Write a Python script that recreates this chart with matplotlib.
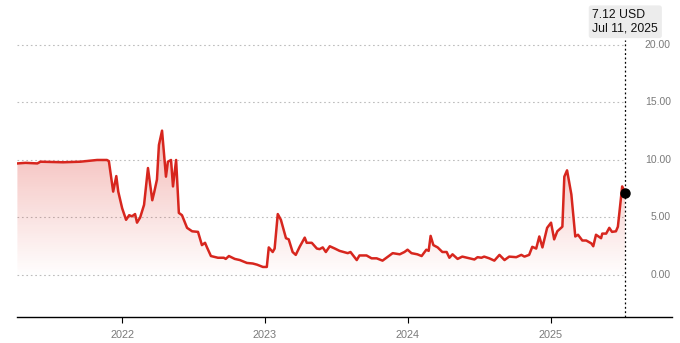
import numpy as np
import pandas as pd
import matplotlib
matplotlib.use("Agg")
import matplotlib.pyplot as plt
import matplotlib.dates as mdates
from matplotlib.transforms import blended_transform_factory

plt.rcParams['font.family'] = ['Liberation Sans', 'DejaVu Sans']

dates = ["2021-04-08", "2021-04-29", "2021-05-29", "2021-06-06", "2021-08-03", "2021-09-16",
         "2021-10-29", "2021-11-23", "2021-11-28", "2021-12-09", "2021-12-17", "2021-12-22",
         "2022-01-01", "2022-01-11", "2022-01-19", "2022-01-26", "2022-02-03", "2022-02-08",
         "2022-02-16", "2022-02-26", "2022-03-08", "2022-03-19", "2022-03-24", "2022-03-31",
         "2022-04-05", "2022-04-13", "2022-04-23", "2022-04-28", "2022-05-06", "2022-05-11",
         "2022-05-19", "2022-05-26", "2022-06-03", "2022-06-16", "2022-06-29", "2022-07-14",
         "2022-07-24", "2022-08-01", "2022-08-06", "2022-08-16", "2022-09-03", "2022-09-18",
         "2022-09-23", "2022-10-01", "2022-10-16", "2022-10-29", "2022-11-16", "2022-12-01",
         "2022-12-12", "2022-12-27", "2023-01-06", "2023-01-11", "2023-01-21", "2023-01-26",
         "2023-02-03", "2023-02-11", "2023-02-24", "2023-03-03", "2023-03-13", "2023-03-21",
         "2023-03-31", "2023-04-13", "2023-04-18", "2023-05-01", "2023-05-14", "2023-05-21",
         "2023-05-29", "2023-06-06", "2023-06-16", "2023-06-29", "2023-07-11", "2023-08-01",
         "2023-08-08", "2023-08-24", "2023-08-31", "2023-09-18", "2023-10-01", "2023-10-14",
         "2023-10-29", "2023-11-24", "2023-12-12", "2023-12-24", "2024-01-01", "2024-01-11",
         "2024-01-26", "2024-02-06", "2024-02-18", "2024-02-24", "2024-02-29", "2024-03-07",
         "2024-03-18", "2024-03-30", "2024-04-10", "2024-04-17", "2024-04-25", "2024-05-08",
         "2024-05-20", "2024-06-07", "2024-06-20", "2024-06-28", "2024-07-08", "2024-07-15",
         "2024-07-28", "2024-08-10", "2024-08-23", "2024-09-05", "2024-09-17", "2024-10-05",
         "2024-10-18", "2024-10-26", "2024-11-07", "2024-11-15", "2024-11-25", "2024-12-03",
         "2024-12-11", "2024-12-23", "2025-01-02", "2025-01-10", "2025-01-18", "2025-01-31",
         "2025-02-05", "2025-02-12", "2025-02-23", "2025-03-05", "2025-03-12", "2025-03-23",
         "2025-04-02", "2025-04-15", "2025-04-20", "2025-04-27", "2025-05-10", "2025-05-13",
         "2025-05-23", "2025-05-31", "2025-06-07", "2025-06-17", "2025-06-22", "2025-07-03",
         "2025-07-07", "2025-07-11"]
prices = [9.7, 9.75, 9.7, 9.85, 9.8, 9.85,
          10.0, 10.0, 9.9, 7.25, 8.6, 7.25,
          5.8, 4.8, 5.2, 5.1, 5.3, 4.55,
          5.0, 6.1, 9.3, 6.5, 7.2, 8.3,
          11.3, 12.55, 8.55, 9.85, 10.0, 7.7,
          10.0, 5.4, 5.2, 4.1, 3.8, 3.75,
          2.6, 2.8, 2.4, 1.65, 1.5, 1.5,
          1.4, 1.65, 1.4, 1.3, 1.05, 1.0,
          0.9, 0.7, 0.7, 2.4, 2.0, 2.3,
          5.3, 4.8, 3.2, 3.1, 2.0, 1.75,
          2.45, 3.25, 2.8, 2.8, 2.3, 2.25,
          2.4, 2.0, 2.5, 2.3, 2.1, 1.9,
          2.0, 1.3, 1.7, 1.7, 1.45, 1.45,
          1.25, 1.9, 1.8, 2.0, 2.2, 1.9,
          1.8, 1.65, 2.2, 2.1, 3.4, 2.6,
          2.4, 2.0, 2.0, 1.5, 1.8, 1.4,
          1.6, 1.45, 1.35, 1.55, 1.5, 1.6,
          1.45, 1.25, 1.75, 1.3, 1.6, 1.55,
          1.75, 1.6, 1.75, 2.45, 2.3, 3.35,
          2.4, 4.1, 4.55, 3.1, 3.8, 4.2,
          8.55, 9.1, 7.0, 3.35, 3.5, 3.0,
          3.0, 2.75, 2.5, 3.5, 3.2, 3.6,
          3.6, 4.1, 3.75, 3.8, 4.2, 7.7,
          7.4, 7.12]
y_ticks = [0, 5, 10, 15, 20]
last_label = "7.12 USD\nJul 11, 2025"

d = pd.to_datetime(dates)
x = mdates.date2num(d)
y = np.array(prices)

fig = plt.figure(figsize=(6.8, 3.43), dpi=100)
ax = fig.add_axes([0.025, 0.0758, 0.963, 0.8076])
xmin = mdates.date2num(pd.Timestamp("2021-04-07"))
xmax = mdates.date2num(pd.Timestamp("2025-11-07"))
ymin, ymax = -3.65, 20.43
ax.set_xlim(xmin, xmax)
ax.set_ylim(ymin, ymax)

# gradient fill under the line
grad = np.zeros((256, 2, 4))
grad[..., 0] = 0.86
grad[..., 1] = 0.15
grad[..., 2] = 0.11
alpha = np.linspace(0.32, 0.0, 256)
grad[..., 3] = alpha[:, None]
im = ax.imshow(grad, extent=[x[0], x[-1], -0.3, y.max()], origin='upper',
               aspect='auto', zorder=1)
poly = ax.fill_between(x, y, -0.3, color='none', lw=0)
clip = poly.get_paths()[0]
im.set_clip_path(clip, transform=ax.transData)

# grid lines
trans = blended_transform_factory(ax.transAxes, ax.transData)
gx_end = (x[-1] - xmin) / (xmax - xmin)
for t in y_ticks:
    ax.plot([0, gx_end], [t, t], transform=trans, color='#bdbdbd', lw=0.8,
            ls=(0, (1.5, 2.5)), zorder=0)
    ax.text(0.9985, t, f"{t:.2f}", transform=trans, ha='right', va='center',
            fontsize=7.5, color='#7a7a7a')

ax.plot(x, y, color='#d7261e', lw=1.8, zorder=3, solid_joinstyle='round')
ax.plot(x[-1], y[-1], 'o', color='black', ms=6.5, zorder=4)

# vertical marker line
ax.plot([x[-1], x[-1]], [0, 1.0], transform=blended_transform_factory(ax.transData, ax.transAxes),
        color='black', lw=0.9, ls=(0, (1.5, 2)), clip_on=False, zorder=2)
ax.annotate(last_label, xy=(x[-1], 1.0), xycoords=('data', 'axes fraction'),
            xytext=(0, 4), textcoords='offset points', ha='center', va='bottom',
            multialignment='left', fontsize=8.8, color='#111111', linespacing=1.15,
            annotation_clip=False,
            bbox=dict(boxstyle='round,pad=0.3,rounding_size=0.2', fc='#ececec', ec='none'))

for s in ['top', 'right', 'left']:
    ax.spines[s].set_visible(False)
ax.spines['bottom'].set_color('black')
ax.spines['bottom'].set_linewidth(1.0)
ax.set_yticks([])
ax.xaxis.set_major_locator(mdates.YearLocator())
ax.xaxis.set_major_formatter(mdates.DateFormatter('%Y'))
ax.tick_params(axis='x', length=4, width=0.8, color='black', labelsize=7.8,
               labelcolor='#7a7a7a', pad=5)

fig.savefig("out.png", dpi=100)
